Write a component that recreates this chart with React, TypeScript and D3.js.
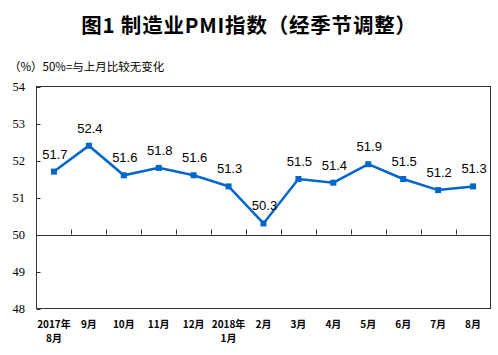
import React from "react";
import * as d3 from "d3";

const categories = ["2017年\n8月", "9月", "10月", "11月", "12月", "2018年\n1月", "2月", "3月", "4月", "5月", "6月", "7月", "8月"];
const values = [51.7, 52.4, 51.6, 51.8, 51.6, 51.3, 50.3, 51.5, 51.4, 51.9, 51.5, 51.2, 51.3];
const yTicks = [48, 49, 50, 51, 52, 53, 54];
const title = "图1 制造业PMI指数（经季节调整）";
const subtitle = "（%）50%=与上月比较无变化";

export default function App() {
  const W = 498, H = 355;
  const left = 36.5, right = 490.5, top = 86.5, bottom = 308.5;
  const x = d3.scaleBand<string>().domain(categories).range([left, right]).padding(0);
  const y = d3.scaleLinear().domain([48, 54]).range([bottom, top]);
  const cx = (i: number) => (x(categories[i]) as number) + x.bandwidth() / 2;
  const line = d3.line<number>().x((_, i) => cx(i)).y((d) => y(d));
  const blue = "#0066CC";
  const cjk = "'Noto Sans CJK SC', sans-serif";
  return (
    <svg width={W} height={H} style={{ position: "absolute", left: 0, top: 0, background: "#fff" }}>
      <text x={249} y={33} textAnchor="middle" fontFamily={cjk} fontWeight={700} fontSize={20.5} letterSpacing={0.8} fill="#000">{title}</text>
      <text x={9} y={71} fontFamily={cjk} fontSize={11.5} fill="#000">{subtitle}</text>
      <rect x={left} y={top} width={right - left} height={bottom - top} fill="none" stroke="#333" strokeWidth={1} />
      {yTicks.map((t) => (
        <g key={t}>
          <line x1={left} x2={left + 4} y1={Math.round(y(t)) + 0.5} y2={Math.round(y(t)) + 0.5} stroke="#333" />
          <text x={25} y={y(t) + 4.5} textAnchor="end" fontFamily="'Liberation Serif', serif" fontSize={12.5} fill="#000">{t}</text>
        </g>
      ))}
      <line x1={left} x2={right} y1={Math.round(y(50)) + 0.5} y2={Math.round(y(50)) + 0.5} stroke="#333" />
      {categories.slice(1).map((c) => (
        <line key={c} x1={Math.round(x(c) as number) + 0.5} x2={Math.round(x(c) as number) + 0.5} y1={y(50)} y2={y(50) - 5} stroke="#333" />
      ))}
      <path d={line(values) as string} fill="none" stroke={blue} strokeWidth={2.5} />
      {values.map((v, i) => (
        <rect key={i} x={cx(i) - 3} y={y(v) - 3} width={6} height={6} fill={blue} />
      ))}
      {values.map((v, i) => (
        <text key={"l" + i} x={cx(i) + 1} y={y(v) - 13} textAnchor="middle" fontFamily="'Liberation Sans', Arial, sans-serif" fontSize={13} fill="#000">{v.toFixed(1)}</text>
      ))}
      {categories.map((c, i) => (
        <text key={"c" + i} x={cx(i)} y={328} textAnchor="middle" fontFamily={cjk} fontWeight={700} fontSize={10} fill="#000">
          {c.split("\n").map((s, j) => (
            <tspan key={j} x={cx(i)} dy={j === 0 ? 0 : 14}>{s}</tspan>
          ))}
        </text>
      ))}
    </svg>
  );
}
